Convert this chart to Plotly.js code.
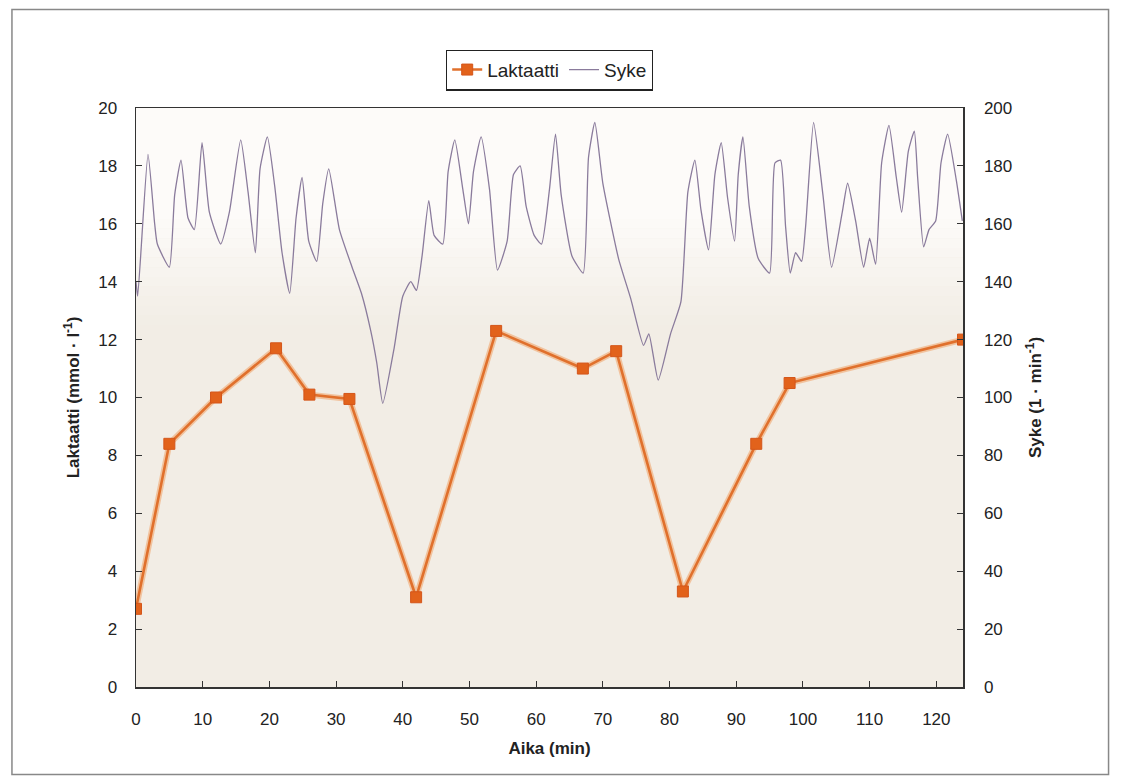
<!DOCTYPE html>
<html>
<head>
<meta charset="utf-8">
<script src="https://cdn.plot.ly/plotly-3.0.1.min.js"></script>
<style>html,body{margin:0;padding:0;background:#fff;}#chart{width:1125px;height:779px;}</style>
</head>
<body>
<div id="chart"></div>
<script>
// Laktaatti (mmol/l) sampling times and values
const lactateTime = [0, 5, 12, 21, 26, 32, 42, 54, 67, 72, 82, 93, 98, 124];
const lactateValue = [2.7, 8.4, 10.0, 11.7, 10.1, 9.95, 3.1, 12.3, 11.0, 11.6, 3.3, 8.4, 10.5, 12.0];

// Syke (heart rate, 1/min) trace
const hrTime = [0, 0.25, 1.8, 2.8, 3.2, 5.0, 5.8, 6.75, 7.8, 8.75, 9.9, 11.0, 12.7, 14.0, 15.7, 16.8, 17.9, 18.6, 19.7, 20.8, 21.9, 23.05, 24.0, 24.9, 25.9, 27.1, 28.0, 28.9, 30.5, 32.4, 33.8, 35.2, 36.1, 37.0, 38.7, 40.0, 41.2, 42.05, 42.9, 43.9, 44.7, 46.0, 46.8, 47.8, 49.0, 49.85, 50.6, 51.75, 53.0, 54.2, 55.65, 56.6, 57.6, 58.5, 59.7, 60.8, 62.0, 62.9, 63.75, 65.35, 67.05, 67.85, 68.8, 70.0, 72.35, 74.2, 76.1, 76.9, 78.3, 80.15, 81.7, 82.75, 83.8, 84.7, 85.85, 86.8, 87.75, 88.7, 89.75, 90.3, 91.0, 91.95, 93.3, 95.0, 95.8, 96.65, 97.4, 98.1, 98.9, 99.8, 100.4, 101.6, 103.0, 104.3, 105.9, 106.7, 107.9, 109.1, 110.0, 110.9, 111.8, 112.9, 114.0, 114.8, 115.8, 116.7, 117.2, 118.1, 118.9, 119.9, 120.7, 121.7, 123.0, 123.9];
const hrValue = [140, 135, 184, 160, 153, 145, 170, 182, 162, 158, 188, 164, 153, 164, 189, 171, 150, 179, 190, 173, 150, 136, 162, 176, 154, 147, 167, 179, 158, 145, 136, 123, 112, 98, 117, 135, 140, 137, 149, 168, 156, 153, 178, 189, 172, 160, 178, 190, 172, 144, 154, 177, 180, 166, 156, 153, 172, 191, 170, 149, 143, 183, 195, 174, 148, 134, 118, 122, 106, 122, 133, 171, 182, 165, 151, 177, 188, 169, 154, 177, 190, 166, 148, 143, 181, 182, 159, 143, 150, 147, 159, 195, 170, 145, 164, 174, 161, 145, 155, 146, 181, 194, 176, 164, 185, 192, 176, 152, 158, 161, 181, 191, 175, 161];

const xTicks = [0, 10, 20, 30, 40, 50, 60, 70, 80, 90, 100, 110, 120];

const FONT = 'Liberation Sans, Arial, sans-serif';

const traces = [
  {
    x: lactateTime, y: lactateValue, type: 'scatter', mode: 'lines', showlegend: false, hoverinfo: 'skip',
    line: {color: 'rgba(240,160,100,0.55)', width: 6},
    xaxis: 'x', yaxis: 'y'
  },
  {
    x: lactateTime, y: lactateValue, name: 'Laktaatti', type: 'scatter', mode: 'lines+markers',
    line: {color: '#e0702c', width: 2.6},
    marker: {symbol: 'square', size: 11, color: '#e2621b', line: {color: '#d4561a', width: 1}},
    xaxis: 'x', yaxis: 'y'
  },
  {
    x: hrTime, y: hrValue, name: 'Syke', type: 'scatter', mode: 'lines',
    line: {color: '#8a7b9c', width: 1.3, shape: 'spline', smoothing: 0.5},
    xaxis: 'x', yaxis: 'y2'
  }
];

const axisCommon = {
  showline: true, linecolor: '#333', linewidth: 1.5,
  ticks: 'inside', ticklen: 6, tickcolor: '#333', tickwidth: 1,
  showgrid: false, zeroline: false,
  tickfont: {family: FONT, size: 17, color: '#222'}
};

// background: paper texture fading from white (top) to beige (lower part)
const bandShapes = [];
const topC = [253, 252, 250], botC = [242, 237, 229];
const steps = 12, yHi = 16.5, yLo = 12.5;
for (let i = 0; i < steps; i++) {
  const f = (i + 0.5) / steps;
  const c = topC.map((t, k) => Math.round(t + (botC[k] - t) * f));
  const y1 = i === 0 ? 20 : yHi - (yHi - yLo) * i / steps;
  const y0 = yHi - (yHi - yLo) * (i + 1) / steps;
  bandShapes.push({type: 'rect', xref: 'x domain', yref: 'y', x0: 0, x1: 1, y0: y0, y1: y1,
    fillcolor: 'rgb(' + c.join(',') + ')', line: {width: 0}, layer: 'below'});
}

const layout = {
  width: 1125, height: 779,
  paper_bgcolor: '#ffffff', plot_bgcolor: '#f2ede5',
  margin: {l: 136, r: 162, t: 108, b: 92},
  showlegend: true,
  legend: {
    orientation: 'h', x: 0.5, xanchor: 'center', y: 1.101, yanchor: 'top',
    bordercolor: '#222', borderwidth: 1.2, bgcolor: '#ffffff',
    font: {family: FONT, size: 19, color: '#222'},
    traceorder: 'normal'
  },
  xaxis: Object.assign({}, axisCommon, {
    range: [0, 124], tickmode: 'array', tickvals: xTicks, ticktext: xTicks.map(String),
    mirror: true, ticklabelstandoff: 16,
    title: {text: 'Aika (min)', font: {family: FONT, size: 17, color: '#222', weight: 'bold'}, standoff: 14}
  }),
  yaxis: Object.assign({}, axisCommon, {
    range: [0, 20], dtick: 2, ticklabelstandoff: 14,
    title: {text: 'Laktaatti (mmol · l<sup>-1</sup>)', font: {family: FONT, size: 17, color: '#222', weight: 'bold'}, standoff: 14}
  }),
  yaxis2: Object.assign({}, axisCommon, {
    range: [0, 200], dtick: 20, overlaying: 'y', side: 'right', ticklabelstandoff: 16,
    title: {text: 'Syke (1 · min<sup>-1</sup>)', font: {family: FONT, size: 17, color: '#222', weight: 'bold'}, standoff: 18}
  }),
  shapes: bandShapes.concat([
    {type: 'rect', xref: 'paper', yref: 'paper', x0: -0.150, x1: 1.176, y0: -0.151, y1: 1.17,
     line: {color: '#888', width: 1.5}, fillcolor: 'rgba(0,0,0,0)', layer: 'below'}
  ])
};

Plotly.newPlot('chart', traces, layout, {displayModeBar: false, staticPlot: true});
</script>
</body>
</html>
